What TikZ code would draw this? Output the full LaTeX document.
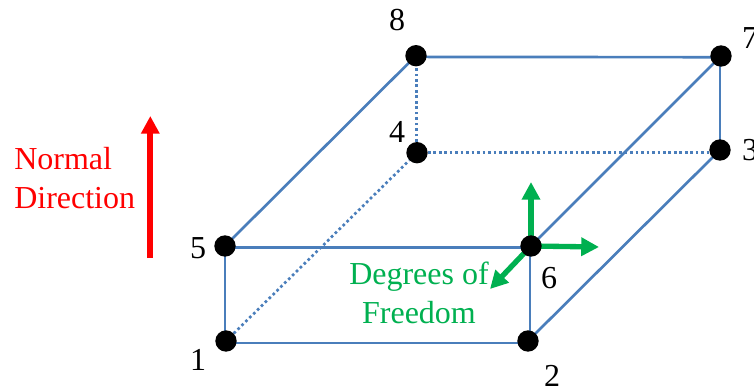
\documentclass[tikz,border=0pt]{standalone}
\usepackage{fontspec}
\setmainfont{Liberation Serif}
\usetikzlibrary{arrows.meta,backgrounds}
\definecolor{edgeblue}{HTML}{4A7EBB}
\definecolor{dofgreen}{HTML}{00B050}
\tikzset{
 x=0.75pt,y=-0.75pt,
 vertex/.style={circle,fill=black,inner sep=0pt,minimum size=16pt},
 edge/.style={draw=edgeblue,line width=2pt},
 hidden/.style={draw=edgeblue,line width=2pt,dash pattern=on 2pt off 2.1pt},
 dof/.style={draw=dofgreen,line width=4pt,-{Triangle[length=13.3pt,width=13.3pt]}},
 num/.style={font=\fontsize{24}{29}\selectfont,inner sep=0pt},
 lab/.style={font=\fontsize{24}{29.3}\selectfont,inner sep=0pt},
}
\begin{document}
\begin{tikzpicture}
\useasboundingbox (0,0) rectangle (754,390);
\node[vertex] (n1) at (226,341) {};
\node[vertex] (n2) at (528,341) {};
\node[vertex] (n3) at (720,150) {};
\node[vertex] (n4) at (417,152.7) {};
\node[vertex] (n5) at (225,246) {};
\node[vertex] (n6) at (531,246) {};
\node[vertex] (n7) at (721,56) {};
\node[vertex] (n8) at (416,55.7) {};
\begin{pgfonlayer}{background}
\draw[edge] ([yshift=-1.6pt]n1.center)--([yshift=-1.6pt]n2.center);
\draw[edge] (n5.center)--(n5.center|-n1.center);
\draw[edge] ([yshift=-1.2pt]n5.center)--([yshift=-1.2pt]n6.center);
\draw[edge] (n5.center)--(n8.center);
\draw[edge] ([yshift=-0.9pt]n8.center)--([yshift=-0.9pt]n7.center);
\draw[edge] (n7.center)--(n6.center);
\draw[edge] (n3.center)--(n2.center);
\draw[edge] ([xshift=-0.7pt]n6.center)--([xshift=-0.7pt]n6.center|-n2.center);
\draw[edge] (n3.center|-n7.center)--(n3.center);
\draw[hidden] (n1)--(n4);
\draw[hidden] (n4)--(n3.center|-n4.center);
\draw[hidden] ([xshift=-0.5pt]n4.center)--([xshift=-0.5pt]n4.center|-n8.center);
\coordinate (u) at (531,182);
\coordinate (r) at (599,247);
\coordinate (d) at (490,289);
\draw[dof] (n6.center)--(u);
\draw[dof] (n6.center)--(r);
\draw[dof] (n6.center)--(d);
\end{pgfonlayer}
\node[num] (l1) at (198,360) {1};
\node[num] (l2) at (552,376) {2};
\node[num] (l3) at (750,150) {3};
\node[num] (l4) at (397,132) {4};
\node[num] (l5) at (198,248) {5};
\node[num] (l6) at (549,278) {6};
\node[num] (l7) at (750,38) {7};
\node[num] (l8) at (397,20) {8};
\coordinate (a0) at (150.3,258);
\coordinate (a1) at (150.3,116);
\draw[draw=red,line width=4.5pt,-{Triangle[length=13.3pt,width=13.3pt]}] (a0)--(a1);
\node[lab,text=red,align=left,anchor=west] (nd) at (14,178) {Normal\\Direction};
\node[lab,text=dofgreen,align=center] (df) at (419,293) {Degrees of\\Freedom};
\end{tikzpicture}
\end{document}
